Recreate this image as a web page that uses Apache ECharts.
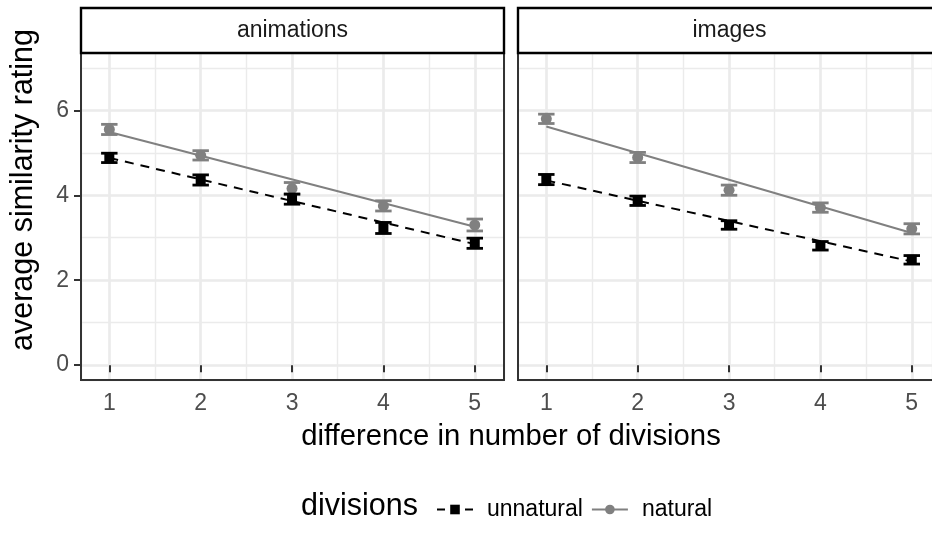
<!DOCTYPE html>
<html>
<head>
<meta charset="utf-8">
<script src="https://cdn.jsdelivr.net/npm/echarts@6.0.0/dist/echarts.min.js"></script>
<style>
html,body{margin:0;padding:0;background:#fff;}
#chart{width:932px;height:534px;}
</style>
</head>
<body>
<div id="chart"></div>
<script>
// ---- data ----
var panels = ['animations', 'images'];
var xValues = [1, 2, 3, 4, 5];
var xTicks = [1, 2, 3, 4, 5];
var yTicks = [0, 2, 4, 6];

var animNatural      = [5.55, 4.94, 4.16, 3.75, 3.30];
var animNaturalErr   = [0.12, 0.11, 0.14, 0.12, 0.14];
var animUnnatural    = [4.88, 4.36, 3.91, 3.23, 2.87];
var animUnnaturalErr = [0.11, 0.12, 0.12, 0.13, 0.12];

var imgNatural       = [5.80, 4.89, 4.12, 3.71, 3.21];
var imgNaturalErr    = [0.11, 0.12, 0.12, 0.11, 0.12];
var imgUnnatural     = [4.37, 3.87, 3.30, 2.81, 2.48];
var imgUnnaturalErr  = [0.12, 0.11, 0.10, 0.10, 0.10];

// fitted regression lines (end points)
var fitX = [1, 5];
var animNaturalFit   = [5.49, 3.26];
var animUnnaturalFit = [4.88, 2.85];
var imgNaturalFit    = [5.62, 3.11];
var imgUnnaturalFit  = [4.35, 2.44];

// ---- styling ----
var FONT = '"Liberation Sans", Arial, Helvetica, sans-serif';
var GREY = '#808080';
var BLACK = '#000000';
var X_MIN = 0.69, X_MAX = 5.32, Y_MIN = -0.35, Y_MAX = 7.35;
var PANEL_W = 423;
// right panel is cut by the picture edge: show only the visible part of its x range
var GRID = [
  {left: 81, top: 53, width: PANEL_W, height: 327, xMax: X_MAX},
  {left: 518, top: 53, width: 414, height: 327, xMax: X_MIN + (X_MAX - X_MIN) * 414 / PANEL_W}
];

function pts(vals) { return xValues.map(function (x, i) { return [x, vals[i]]; }); }
function errs(vals, e) { return xValues.map(function (x, i) { return [x, vals[i] - e[i], vals[i] + e[i]]; }); }
function fit(vals) { return fitX.map(function (x, i) { return [x, vals[i]]; }); }

function errRender(color) {
  return function (params, api) {
    var x = api.value(0), lo = api.value(1), hi = api.value(2);
    var a = api.coord([x, lo]), b = api.coord([x, hi]);
    var hw = api.size([0.09, 0])[0];
    var st = {stroke: color, lineWidth: 2.8};
    return {type: 'group', children: [
      {type: 'line', shape: {x1: a[0], y1: a[1], x2: b[0], y2: b[1]}, style: st},
      {type: 'line', shape: {x1: a[0] - hw, y1: a[1], x2: a[0] + hw, y2: a[1]}, style: st},
      {type: 'line', shape: {x1: b[0] - hw, y1: b[1], x2: b[0] + hw, y2: b[1]}, style: st}
    ]};
  };
}

var xAxes = [], yAxes = [], series = [];
[0, 1].forEach(function (g) {
  var xMax = GRID[g].xMax;
  xAxes.push({
    type: 'value', gridIndex: g, min: X_MIN, max: xMax, splitNumber: 5,
    axisLine: {show: false},
    axisTick: {show: true, length: 7, lineStyle: {color: '#333', width: 2}, customValues: xTicks},
    axisLabel: {show: true, customValues: xTicks, margin: 12, fontSize: 23, color: '#4d4d4d', fontFamily: FONT},
    splitLine: {show: true, lineStyle: {color: '#ebebeb', width: 2.6}}
  });
  xAxes.push({
    type: 'value', gridIndex: g, min: X_MIN, max: xMax, splitNumber: 10,
    axisLine: {show: false}, axisTick: {show: false}, axisLabel: {show: false},
    splitLine: {show: true, lineStyle: {color: '#ebebeb', width: 1.4}}
  });
  yAxes.push({
    type: 'value', gridIndex: g, min: Y_MIN, max: Y_MAX, splitNumber: 5,
    axisLine: {show: false},
    axisTick: {show: g === 0, length: 7, lineStyle: {color: '#333', width: 2}, customValues: yTicks},
    axisLabel: {show: g === 0, customValues: yTicks, margin: 12, fontSize: 23, color: '#4d4d4d', fontFamily: FONT},
    splitLine: {show: true, lineStyle: {color: '#ebebeb', width: 2.6}}
  });
  yAxes.push({
    type: 'value', gridIndex: g, min: Y_MIN, max: Y_MAX, splitNumber: 10,
    axisLine: {show: false}, axisTick: {show: false}, axisLabel: {show: false},
    splitLine: {show: true, lineStyle: {color: '#ebebeb', width: 1.4}}
  });
});

var panelData = [
  {nat: animNatural, natE: animNaturalErr, un: animUnnatural, unE: animUnnaturalErr, natFit: animNaturalFit, unFit: animUnnaturalFit},
  {nat: imgNatural, natE: imgNaturalErr, un: imgUnnatural, unE: imgUnnaturalErr, natFit: imgNaturalFit, unFit: imgUnnaturalFit}
];

panelData.forEach(function (p, g) {
  var xi = g * 2, yi = g * 2;
  series.push({
    name: 'natural fit', type: 'line', xAxisIndex: xi, yAxisIndex: yi, data: fit(p.natFit),
    symbol: 'none', lineStyle: {color: GREY, width: 2}, z: 2, silent: true
  });
  series.push({
    name: 'unnatural fit', type: 'line', xAxisIndex: xi, yAxisIndex: yi, data: fit(p.unFit),
    symbol: 'none', lineStyle: {color: BLACK, width: 2, type: [9, 7]}, z: 2, silent: true
  });
  series.push({
    name: 'natural err', type: 'custom', xAxisIndex: xi, yAxisIndex: yi, data: errs(p.nat, p.natE),
    renderItem: errRender(GREY), encode: {x: 0, y: [1, 2]}, z: 3, silent: true
  });
  series.push({
    name: 'natural', type: 'line', xAxisIndex: xi, yAxisIndex: yi, data: pts(p.nat),
    symbol: 'circle', symbolSize: 11, showSymbol: true, itemStyle: {color: GREY},
    lineStyle: {width: 0, opacity: 0}, z: 4
  });
  series.push({
    name: 'unnatural err', type: 'custom', xAxisIndex: xi, yAxisIndex: yi, data: errs(p.un, p.unE),
    renderItem: errRender(BLACK), encode: {x: 0, y: [1, 2]}, z: 5, silent: true
  });
  series.push({
    name: 'unnatural', type: 'line', xAxisIndex: xi, yAxisIndex: yi, data: pts(p.un),
    symbol: 'rect', symbolSize: 10, showSymbol: true, itemStyle: {color: BLACK},
    lineStyle: {width: 0, opacity: 0}, z: 6
  });
});

var graphics = [];
GRID.forEach(function (gr, g) {
  graphics.push({type: 'rect', z: 100, silent: true,
    shape: {x: gr.left, y: gr.top, width: PANEL_W, height: gr.height},
    style: {fill: 'none', stroke: '#333', lineWidth: 2}});
  graphics.push({type: 'rect', z: 100, silent: true,
    shape: {x: gr.left, y: 8, width: PANEL_W, height: 45},
    style: {fill: '#fff', stroke: '#000', lineWidth: 2.4}});
  graphics.push({type: 'text', z: 101, silent: true,
    x: gr.left + PANEL_W / 2, y: 31,
    style: {text: panels[g], fill: '#1a1a1a', font: '23px ' + FONT, align: 'center', verticalAlign: 'middle'}});
});
// y axis title (spans panels + strips)
graphics.push({type: 'text', z: 101, silent: true, x: 24, y: 190, rotation: Math.PI / 2,
  style: {text: 'average similarity rating', fill: '#000', font: '30.5px ' + FONT, align: 'center', verticalAlign: 'middle'}});
// x axis title (shared)
graphics.push({type: 'text', z: 101, silent: true, x: 511, y: 437,
  style: {text: 'difference in number of divisions', fill: '#000', font: '29.3px ' + FONT, align: 'center', verticalAlign: 'middle'}});
// legend title
graphics.push({type: 'text', z: 101, silent: true, x: 301, y: 507,
  style: {text: 'divisions', fill: '#000', font: '30.5px ' + FONT, align: 'left', verticalAlign: 'middle'}});

var option = {
  animation: false,
  backgroundColor: '#fff',
  grid: GRID.map(function (gr) { return {left: gr.left, top: gr.top, width: gr.width, height: gr.height, show: false}; }),
  xAxis: xAxes,
  yAxis: yAxes,
  legend: {
    left: 431, top: 493, itemWidth: 36, itemHeight: 12, itemGap: 8,
    data: [
      {name: 'unnatural', itemStyle: {color: BLACK}, lineStyle: {color: BLACK, width: 2, type: [8, 6], opacity: 1}},
      {name: 'natural', itemStyle: {color: GREY}, lineStyle: {color: GREY, width: 2, type: 'solid', opacity: 1}}
    ],
    textStyle: {fontSize: 23, color: '#000', fontFamily: FONT, padding: [0, 0, 0, 9]},
    selectedMode: false
  },
  graphic: graphics,
  series: series
};

var chart = echarts.init(document.getElementById('chart'), null, {renderer: 'canvas'});
chart.setOption(option);
</script>
</body>
</html>
